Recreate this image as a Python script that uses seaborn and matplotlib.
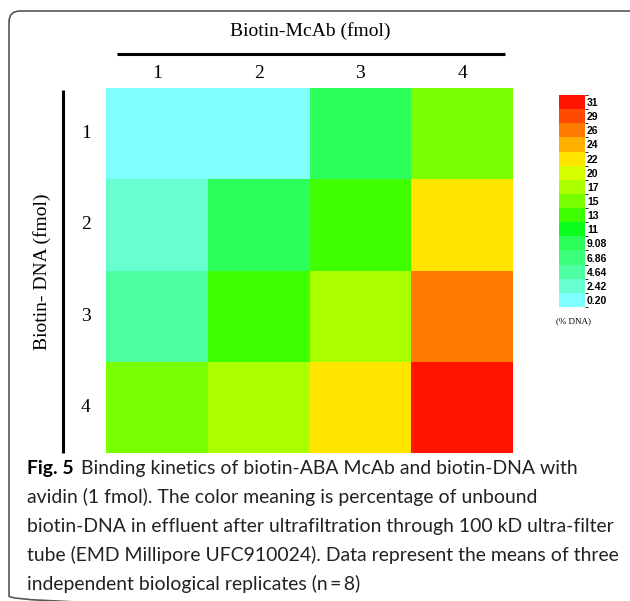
import numpy as np
import pandas as pd
import seaborn as sns
import matplotlib
matplotlib.use("Agg")
import matplotlib.pyplot as plt
from matplotlib.colors import ListedColormap, BoundaryNorm
from matplotlib.patches import FancyBboxPatch

# ---------------- data ----------------
mcab_labels = ["1", "2", "3", "4"]          # Biotin-McAb (fmol)
dna_labels = ["1", "2", "3", "4"]           # Biotin-DNA (fmol)
row_dna1 = [0.20, 0.20, 9.08, 15.74]
row_dna2 = [2.42, 9.08, 13.52, 22.40]
row_dna3 = [4.64, 13.52, 17.96, 26.84]
row_dna4 = [15.74, 17.96, 22.40, 31.28]
level_values = [0.20, 2.42, 4.64, 6.86, 9.08, 11.30, 13.52, 15.74,
                17.96, 20.18, 22.40, 24.62, 26.84, 29.06, 31.28]
level_labels = ["0.20", "2.42", "4.64", "6.86", "9.08", "11", "13", "15",
                "17", "20", "22", "24", "26", "29", "31"]
level_colors = ["#80FFFF", "#68FFD0", "#4DFFA0", "#3CFF7A", "#2CFF5A",
                "#0AFF1E", "#40FF00", "#78FF00", "#AAFF00", "#D8FF00",
                "#FFE400", "#FFB000", "#FF7A00", "#FF4A00", "#FF1400"]

caption_bold = "Fig. 5"
caption_lines = [
    "Binding kinetics of biotin-ABA McAb and biotin-DNA with",
    "avidin (1 fmol). The color meaning is percentage of unbound",
    "biotin-DNA in effluent after ultrafiltration through 100 kD ultra-filter",
    "tube (EMD Millipore UFC910024). Data represent the means of three",
    "independent biological replicates (n\u2009=\u20098)",
]

df = pd.DataFrame([row_dna1, row_dna2, row_dna3, row_dna4],
                  index=dna_labels, columns=mcab_labels)

# ---------------- figure ----------------
W, H = 630, 601
fig = plt.figure(figsize=(W / 100, H / 100), dpi=100)

# pixel overlay axes
bg = fig.add_axes([0, 0, 1, 1], zorder=0)
bg.set_xlim(0, W)
bg.set_ylim(H, 0)
bg.axis("off")
bg.patch.set_alpha(0)

box = FancyBboxPatch((9, 11), 660, 596,
                     boxstyle="round,pad=0,rounding_size=11",
                     fc="none", ec="#555555", lw=1.2)
bg.add_patch(box)

# heatmap
ax = fig.add_axes([106 / W, 1 - 453 / H, 407 / W, 365 / H], zorder=2)
cax = fig.add_axes([559 / W, 1 - 307 / H, 26 / W, 212 / H], zorder=2)

step = level_values[1] - level_values[0]
bounds = [level_values[0] - step / 2] + [v + step / 2 for v in level_values]
cmap = ListedColormap(level_colors)
norm = BoundaryNorm(bounds, cmap.N)

sns.heatmap(df, ax=ax, cmap=cmap, norm=norm, cbar=True, cbar_ax=cax,
            linewidths=0, square=False)

serif = ["Liberation Serif", "DejaVu Serif"]
ax.xaxis.tick_top()
ax.set_xticklabels(mcab_labels, fontsize=14, family=serif, rotation=0)
ax.set_yticklabels(dna_labels, fontsize=14, family=serif, rotation=0)
ax.tick_params(axis="x", length=0, pad=4)
ax.tick_params(axis="y", length=0, pad=11)
ax.set_xlabel("")
ax.set_ylabel("")

cb = ax.collections[0].colorbar
cb.set_ticks(level_values)
cb.set_ticklabels(level_labels)
cb.outline.set_visible(False)
cax.tick_params(length=0, pad=1.5)
for t in cax.get_yticklabels():
    t.set_fontsize(7.5)
    t.set_fontweight("bold")
    t.set_family(["Liberation Sans", "DejaVu Sans"])

bg.text(573, 321, "(% DNA)", fontsize=6.5, family=serif,
        ha="center", va="center")

# titles and bracket lines
bg.text(310, 31, "Biotin-McAb (fmol)", fontsize=14, family=serif,
        ha="center", va="center")
bg.plot([117, 505], [53.5, 53.5], color="black", lw=2.2,
        solid_capstyle="butt")
bg.text(42, 272, "Biotin- DNA (fmol)", fontsize=14, family=serif,
        ha="center", va="center", rotation=90)
bg.plot([63, 63], [90, 453], color="black", lw=2.2,
        solid_capstyle="butt")

# caption
cap_family = ["Lato", "DejaVu Sans"]
renderer = fig.canvas.get_renderer()
probe = bg.text(0, 0, caption_lines[2], fontsize=12, family=cap_family)
wpx = probe.get_window_extent(renderer).width
probe.remove()
fs = 12 * 586 / wpx

x0 = 27
y_first = 474
dy = 29
tb = bg.text(x0, y_first, caption_bold, fontsize=fs, family=cap_family,
             fontweight="bold", ha="left", va="baseline")
bw = tb.get_window_extent(renderer).width
bg.text(x0 + bw + 0.55 * fs, y_first, caption_lines[0], fontsize=fs,
        family=cap_family, ha="left", va="baseline", color="#222222")
for i, line in enumerate(caption_lines[1:], start=1):
    bg.text(x0, y_first + i * dy, line, fontsize=fs, family=cap_family,
            ha="left", va="baseline", color="#222222")

fig.savefig("out.png", dpi=100)
